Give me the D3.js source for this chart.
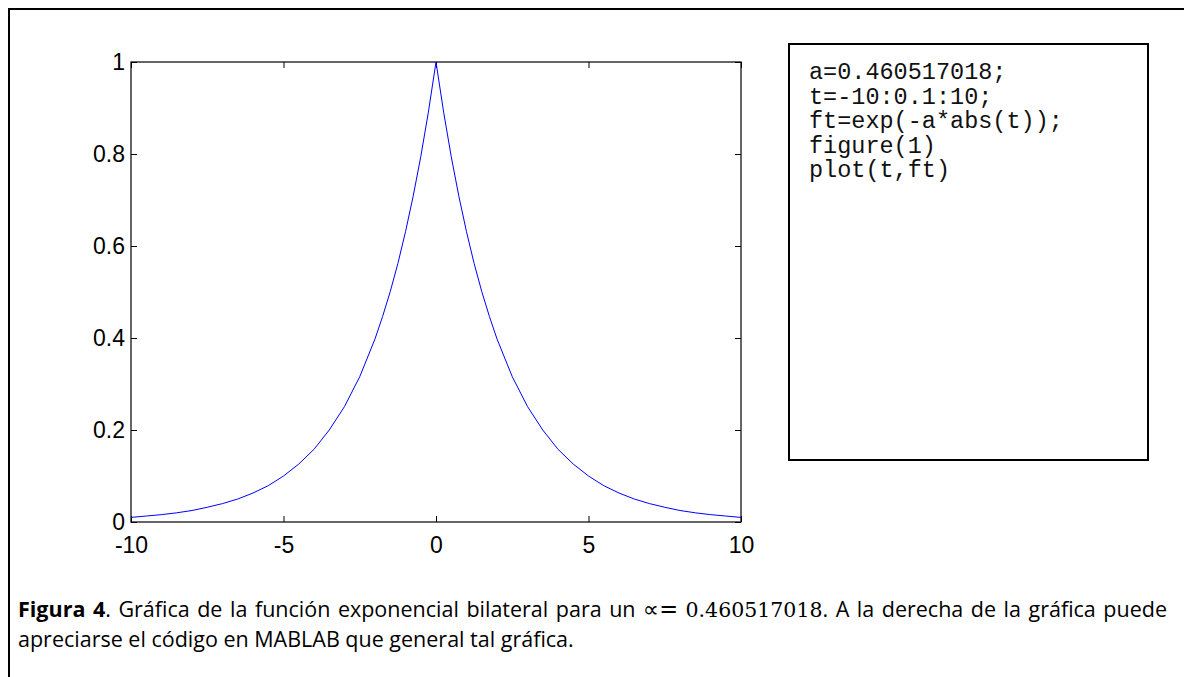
<!DOCTYPE html>
<html>
<head>
<meta charset="utf-8">
<script src="https://cdn.jsdelivr.net/npm/d3@7"></script>
<style>
  body { margin: 0; background: #fff; }
  svg { display: block; }
</style>
</head>
<body>
<div id="chart"></div>
<script>

// values, f(t) = exp(-a|t|)
var tValues = [-10, -9.5, -9, -8.5, -8, -7.5, -7, -6.5, -6, -5.5, -5, -4.5, -4, -3.5, -3, -2.5, -2,
               -1.75, -1.5, -1.25, -1, -0.75, -0.5, -0.25, 0, 0.25, 0.5, 0.75, 1, 1.25, 1.5, 1.75,
               2, 2.5, 3, 3.5, 4, 4.5, 5, 5.5, 6, 6.5, 7, 7.5, 8, 8.5, 9, 9.5, 10];
var ftValues = [0.010, 0.013, 0.016, 0.020, 0.025, 0.032, 0.040, 0.050, 0.063, 0.079, 0.100, 0.126, 0.158, 0.200, 0.251, 0.316, 0.398,
                0.447, 0.501, 0.562, 0.631, 0.708, 0.794, 0.891, 1.000, 0.891, 0.794, 0.708, 0.631, 0.562, 0.501, 0.447,
                0.398, 0.316, 0.251, 0.200, 0.158, 0.126, 0.100, 0.079, 0.063, 0.050, 0.040, 0.032, 0.025, 0.020, 0.016, 0.013, 0.010];

var xTicks = [-10, -5, 0, 5, 10];
var yTicks = [0, 0.2, 0.4, 0.6, 0.8, 1];
var xTickLabels = ["-10", "-5", "0", "5", "10"];
var yTickLabels = ["0", "0.2", "0.4", "0.6", "0.8", "1"];

var codeLines = ["a=0.460517018;", "t=-10:0.1:10;", "ft=exp(-a*abs(t));", "figure(1)", "plot(t,ft)"];

// caption, line 1 is justified word by word
var captionWords = [
  [["Figura", "b"]], [["4", "b"], [".", "n"]], [["Gráfica", "n"]], [["de", "n"]], [["la", "n"]],
  [["función", "n"]], [["exponencial", "n"]], [["bilateral", "n"]], [["para", "n"]], [["un", "n"]],
  [["∝=", "s"]], [["0.460517018", "m"], [".", "n"]], [["A", "n"]], [["la", "n"]], [["derecha", "n"]],
  [["de", "n"]], [["la", "n"]], [["gráfica", "n"]], [["puede", "n"]]
];
var captionLine2 = "apreciarse el código en MABLAB que general tal gráfica.";

var W = 1184, H = 677;
var margin = {top: 62, right: 443, bottom: 155, left: 131},
    width = W - margin.left - margin.right,
    height = H - margin.top - margin.bottom;

var svg = d3.select("#chart")
  .append("svg")
    .attr("width", W)
    .attr("height", H);

// outer frame (only left and top edges show)
svg.append("path")
  .attr("d", "M9,677V9H1184")
  .attr("fill", "none")
  .attr("stroke", "#000")
  .attr("stroke-width", 2);

var g = svg.append("g")
  .attr("transform", "translate(" + margin.left + "," + margin.top + ")");

var x = d3.scaleLinear().domain([-10, 10]).range([0, width]);
var y = d3.scaleLinear().domain([0, 1]).range([height, 0]);

var axisFont = "'Liberation Sans', Arial, sans-serif";

// bottom and left axes with inward ticks
var xAxis = g.append("g")
  .attr("transform", "translate(0," + height + ")")
  .call(d3.axisBottom(x).tickValues(xTicks).tickSizeInner(-6).tickSizeOuter(0).tickPadding(15)
    .tickFormat(function(d, i) { return xTickLabels[i]; }));
var yAxis = g.append("g")
  .call(d3.axisLeft(y).tickValues(yTicks).tickSizeInner(-6).tickSizeOuter(0).tickPadding(6)
    .tickFormat(function(d, i) { return yTickLabels[i]; }));

// mirrored ticks on top and right
var xTop = g.append("g")
  .call(d3.axisTop(x).tickValues(xTicks).tickSizeInner(-6).tickSizeOuter(0).tickFormat(""));
var yRight = g.append("g")
  .attr("transform", "translate(" + width + ",0)")
  .call(d3.axisRight(y).tickValues(yTicks).tickSizeInner(-6).tickSizeOuter(0).tickFormat(""));

[xAxis, yAxis, xTop, yRight].forEach(function(a) {
  a.select(".domain").remove();
  a.selectAll("line").attr("stroke", "#000");
  a.selectAll("text")
    .attr("fill", "#000")
    .style("font-family", axisFont)
    .style("font-size", "23px");
});

g.append("rect")
  .attr("width", width)
  .attr("height", height)
  .attr("fill", "none")
  .attr("stroke", "#000")
  .attr("stroke-width", 1.2);

var line = d3.line()
  .x(function(d, i) { return x(tValues[i]); })
  .y(function(d) { return y(d); });

g.append("path")
  .datum(ftValues)
  .attr("d", line)
  .attr("fill", "none")
  .attr("stroke", "#0000ff")
  .attr("stroke-width", 1);

// code box
var box = svg.append("g").attr("transform", "translate(789,44)");
box.append("rect")
  .attr("width", 359)
  .attr("height", 416)
  .attr("fill", "#fff")
  .attr("stroke", "#000")
  .attr("stroke-width", 2);
box.selectAll("text.code")
  .data(codeLines)
  .enter()
  .append("text")
    .attr("class", "code")
    .attr("x", 20)
    .attr("y", function(d, i) { return 35 + i * 24.5; })
    .style("font-family", "'Liberation Mono', 'Courier New', monospace")
    .style("font-size", "23.5px")
    .attr("fill", "#111")
    .text(function(d) { return d; });

// caption
var capFont = "'Open Sans', Lato, sans-serif";
var x0 = 18, x1 = 1167;

var cap = svg.append("g");
var line2 = cap.append("text")
  .attr("x", x0)
  .attr("y", 647)
  .attr("fill", "#000")
  .style("font-family", capFont)
  .style("font-size", "20px")
  .text(captionLine2);
// fit the font size so line 2 spans the same width as in the figure
var capSize = 20 * 556 / line2.node().getComputedTextLength();
line2.style("font-size", capSize + "px");

var styleFor = {
  b: {family: capFont, weight: "bold", size: capSize},
  n: {family: capFont, weight: "normal", size: capSize},
  s: {family: "'DejaVu Sans', sans-serif", weight: "normal", size: capSize + 1},
  m: {family: "'DejaVu Serif', 'Liberation Serif', serif", weight: "normal", size: capSize - 1}
};

var wordNodes = captionWords.map(function(parts) {
  var t = cap.append("text")
    .attr("y", 617)
    .attr("fill", "#000");
  parts.forEach(function(p) {
    var s = styleFor[p[1]];
    t.append("tspan")
      .style("font-family", s.family)
      .style("font-weight", s.weight)
      .style("font-size", s.size + "px")
      .text(p[0]);
  });
  return t;
});
var widths = wordNodes.map(function(t) { return t.node().getComputedTextLength(); });
var gap = (x1 - x0 - d3.sum(widths)) / (wordNodes.length - 1);
var cx = x0;
wordNodes.forEach(function(t, i) {
  t.attr("x", cx);
  cx += widths[i] + gap;
});

</script>
</body>
</html>
